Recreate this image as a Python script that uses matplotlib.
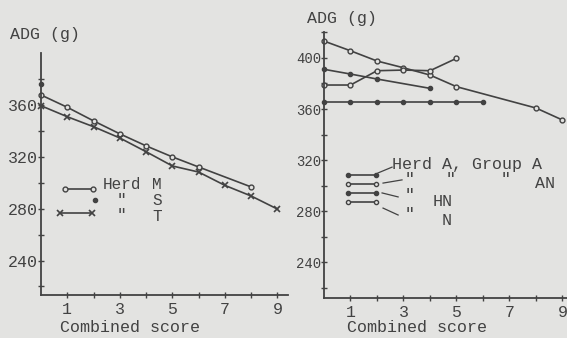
# %% HEADER
# ADG vs combined score, two scanned panels (herds M/S/T and herd A groups)

# %% IMPORTS
import matplotlib
matplotlib.use("Agg")
import matplotlib.pyplot as plt

# %% DATA
# Left panel: herds M, S, T
m_score = [0, 1, 2, 3, 4, 5, 6, 8]
m_adg = [367.8, 358.3, 347.8, 337.8, 328.5, 320.0, 312.2, 296.8]
s_score = [0]
s_adg = [376.3]
t_score = [0, 1, 2, 3, 4, 5, 6, 7, 8, 9]
t_adg = [359.5, 351.0, 343.3, 334.6, 324.0, 313.0, 308.3, 298.0, 289.8, 279.7]

# Right panel: herd A, groups A, AN, HN, N
a_score = [0, 1, 2, 3, 4, 5, 6]
a_adg = [365.7, 365.7, 365.7, 365.7, 365.7, 365.7, 365.7]
an_score = [0, 1, 2, 3, 4, 5, 8, 9]
an_adg = [413.2, 405.6, 397.6, 392.3, 386.6, 377.5, 360.8, 351.4]
hn_score = [0, 1, 2, 4]
hn_adg = [391.1, 387.4, 383.5, 376.2]
n_score = [0, 1, 2, 3, 4, 5]
n_adg = [378.8, 378.8, 390.0, 390.5, 390.0, 399.7]

left_yticks = [240, 280, 320, 360]
right_yticks = [240, 280, 320, 360, 400]
xticks = [1, 3, 5, 7, 9]

# %% STYLE
paper = "#e3e3e1"
ink = "#424242"
mono = "Liberation Mono"
W, H = 567, 338

fig = plt.figure(figsize=(W / 100, H / 100), dpi=100, facecolor=paper)


def px_axes(x0, y_top, x1, y_bot):
    # axes box from pixel corners
    return fig.add_axes([x0 / W, 1 - y_bot / H, (x1 - x0) / W, (y_bot - y_top) / H])


def style(ax, ylim, yticks, xlim, ysize):
    ax.set_facecolor(paper)
    for side in ["top", "right"]:
        ax.spines[side].set_visible(False)
    for side in ["left", "bottom"]:
        ax.spines[side].set_color(ink)
        ax.spines[side].set_linewidth(1.3)
    ax.set_xlim(*xlim)
    ax.set_ylim(*ylim)
    ax.set_xticks(xticks)
    ax.set_xticks([2, 4, 6, 8], minor=True)
    ax.set_yticks(yticks)
    ax.set_yticks([v + 20 for v in [yticks[0] - 40] + yticks], minor=True)
    ax.tick_params(which="both", colors=ink, direction="inout", length=4, width=1)
    ax.tick_params(axis="y", pad=0, labelsize=ysize)
    ax.tick_params(axis="x", pad=3, labelsize=12)
    for lab in ax.get_xticklabels() + ax.get_yticklabels():
        lab.set_fontfamily(mono)


line_kw = dict(color=ink, linewidth=1.2, clip_on=False)

# %% LEFT PANEL
ax1 = px_axes(41, 53, 288, 295)
style(ax1, (213.4, 400.2), left_yticks, (0, 9.4), 12)
ax1.plot(m_score, m_adg, marker="o", ms=3.5, mfc=paper, mec=ink, **line_kw)
ax1.plot(t_score, t_adg, marker="x", ms=4, mew=1.2, **line_kw)
ax1.plot(s_score, s_adg, marker="o", ms=3, linestyle="None", color=ink, clip_on=False)

# legend, drawn by hand in axes fractions
tr = ax1.transAxes
ax1.plot([0.097, 0.211], [0.438, 0.438], transform=tr, marker="o", ms=3.5,
         mfc=paper, mec=ink, **line_kw)
ax1.plot([0.219], [0.392], transform=tr, marker="o", ms=3, color=ink, linestyle="None")
ax1.plot([0.077, 0.206], [0.339, 0.339], transform=tr, marker="x", ms=4, mew=1.2, **line_kw)
for txt, x, y in [("Herd", 0.251, 0.458), ("M", 0.45, 0.458),
                  ('"', 0.305, 0.392), ("S", 0.45, 0.392),
                  ('"', 0.305, 0.330), ("T", 0.45, 0.326)]:
    ax1.text(x, y, txt, transform=tr, fontfamily=mono, fontsize=11.5, color=ink,
             va="center", ha="left")

# %% RIGHT PANEL
ax2 = px_axes(324, 32, 567, 298)
style(ax2, (212.1, 420.3), right_yticks, (0, 9.17), 10)
ax2.plot(a_score, a_adg, marker="o", ms=3, color=ink, linewidth=1.2, clip_on=False)
ax2.plot(an_score, an_adg, marker="o", ms=3.5, mfc=paper, mec=ink, **line_kw)
ax2.plot(hn_score, hn_adg, marker="o", ms=3, color=ink, linewidth=1.2, clip_on=False)
ax2.plot(n_score, n_adg, marker="o", ms=3.5, mfc=paper, mec=ink, **line_kw)

tr = ax2.transAxes
rows = [0.462, 0.429, 0.395, 0.361]
filled = [True, False, True, False]
for y, f in zip(rows, filled):
    ax2.plot([0.099, 0.214], [y, y], transform=tr, marker="o", ms=3,
             mfc=ink if f else paper, mec=ink, **line_kw)
# leader lines
leaders = [((0.222, 0.470), (0.280, 0.492)),
           ((0.243, 0.432), (0.321, 0.444)),
           ((0.239, 0.395), (0.305, 0.380)),
           ((0.243, 0.338), (0.305, 0.312))]
for (xa, ya), (xb, yb) in leaders:
    ax2.plot([xa, xb], [ya, yb], transform=tr, color=ink, linewidth=0.9)
for txt, x, y in [("Herd A, Group A", 0.28, 0.50),
                  ('"', 0.33, 0.444), ('"', 0.50, 0.444), ('"', 0.725, 0.444),
                  ("AN", 0.87, 0.43),
                  ('"', 0.33, 0.385), ("HN", 0.445, 0.362),
                  ('"', 0.33, 0.315), ("N", 0.485, 0.29)]:
    ax2.text(x, y, txt, transform=tr, fontfamily=mono, fontsize=12, color=ink,
             va="center", ha="left")

# %% AXIS TITLES
fig.text(10 / W, 1 - 35 / H, "ADG (g)", fontfamily=mono, fontsize=12, color=ink,
         va="center", ha="left")
fig.text(307 / W, 1 - 18 / H, "ADG (g)", fontfamily=mono, fontsize=12, color=ink,
         va="center", ha="left")
fig.text(60 / W, 1 - 328 / H, "Combined score", fontfamily=mono, fontsize=12,
         color=ink, va="center", ha="left")
fig.text(347 / W, 1 - 328 / H, "Combined score", fontfamily=mono, fontsize=12,
         color=ink, va="center", ha="left")

fig.savefig("out.png", dpi=100, facecolor=paper)
